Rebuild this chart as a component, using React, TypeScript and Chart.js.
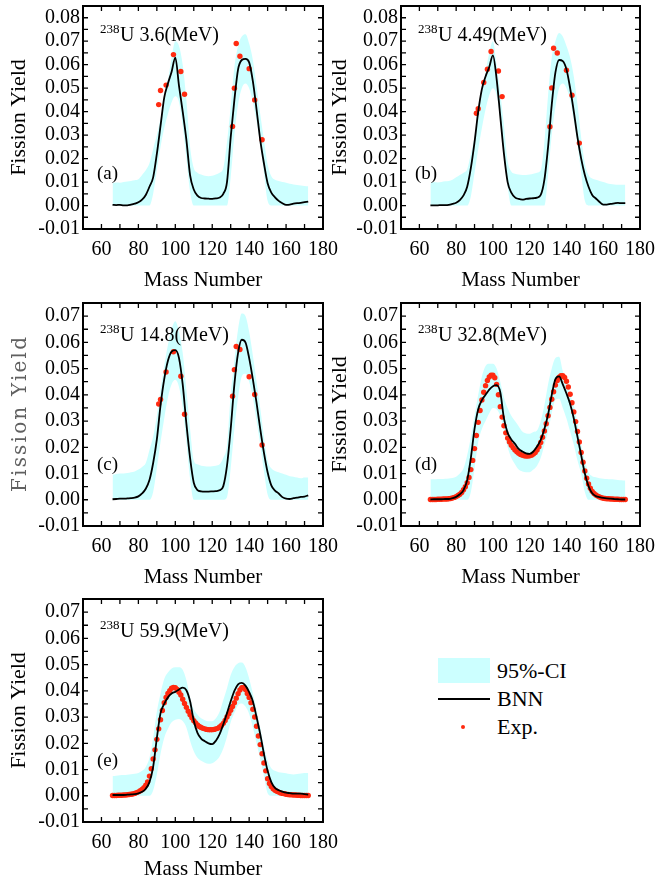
import React, { useEffect, useRef } from 'react';
import { Chart, registerables } from 'chart.js';

Chart.register(...registerables);

// ---------- shared categories / ticks ----------
const MASS2 = [
  66, 68, 70, 72, 74, 76, 78, 80, 82, 84,
  86, 88, 90, 92, 94, 96, 98, 100, 102, 104,
  106, 108, 110, 112, 114, 116, 118, 120, 122, 124,
  126, 128, 130, 132, 134, 136, 138, 140, 142, 144,
  146, 148, 150, 152, 154, 156, 158, 160, 162, 164,
  166, 168, 170, 172,
];
const MASS1 = [
  66, 67, 68, 69, 70, 71, 72, 73, 74, 75,
  76, 77, 78, 79, 80, 81, 82, 83, 84, 85,
  86, 87, 88, 89, 90, 91, 92, 93, 94, 95,
  96, 97, 98, 99, 100, 101, 102, 103, 104, 105,
  106, 107, 108, 109, 110, 111, 112, 113, 114, 115,
  116, 117, 118, 119, 120, 121, 122, 123, 124, 125,
  126, 127, 128, 129, 130, 131, 132, 133, 134, 135,
  136, 137, 138, 139, 140, 141, 142, 143, 144, 145,
  146, 147, 148, 149, 150, 151, 152, 153, 154, 155,
  156, 157, 158, 159, 160, 161, 162, 163, 164, 165,
  166, 167, 168, 169, 170, 171, 172,
];
const X_TICKS = [50, 60, 70, 80, 90, 100, 110, 120, 130, 140, 150, 160, 170, 180];
const Y_TICKS_AB = [-0.01, -0.005, 0, 0.005, 0.01, 0.015, 0.02, 0.025, 0.03, 0.035, 0.04, 0.045, 0.05, 0.055, 0.06, 0.065, 0.07, 0.075, 0.08, 0.085];
const Y_TICKS_CDE = [-0.01, -0.005, 0, 0.005, 0.01, 0.015, 0.02, 0.025, 0.03, 0.035, 0.04, 0.045, 0.05, 0.055, 0.06, 0.065, 0.07, 0.075];

// ---------- (a) 238U 3.6 MeV ----------
const A_BNN = [
  0.0003, 0.0002, 0.0003, 0.0001, 0.0001, 0.0004, 0.0008, 0.0014, 0.0025, 0.0045,
  0.0080, 0.0120, 0.0220, 0.0340, 0.0460, 0.0520, 0.0570, 0.0630, 0.0510, 0.0400,
  0.0280, 0.0130, 0.0068, 0.0042, 0.0032, 0.0030, 0.0029, 0.0028, 0.0030, 0.0034,
  0.0050, 0.0100, 0.0290, 0.0450, 0.0580, 0.0620, 0.0625, 0.0610, 0.0530, 0.0410,
  0.0280, 0.0180, 0.0095, 0.0055, 0.0035, 0.0020, 0.0010, 0.0003, 0.0004, 0.0008,
  0.0010, 0.0011, 0.0014, 0.0017,
];
const A_UP = [
  0.0095, 0.0098, 0.0097, 0.0100, 0.0102, 0.0105, 0.0108, 0.0112, 0.0130, 0.0150,
  0.0180, 0.0240, 0.0300, 0.0370, 0.0440, 0.0530, 0.0630, 0.0700, 0.0680, 0.0600,
  0.0450, 0.0250, 0.0160, 0.0140, 0.0132, 0.0127, 0.0125, 0.0127, 0.0132, 0.0140,
  0.0160, 0.0270, 0.0420, 0.0590, 0.0680, 0.0720, 0.0730, 0.0690, 0.0620, 0.0510,
  0.0390, 0.0280, 0.0175, 0.0125, 0.0110, 0.0105, 0.0100, 0.0097, 0.0093, 0.0090,
  0.0087, 0.0085, 0.0083, 0.0082,
];
const A_LO = [
  0, 0, 0, 0, 0, 0, 0, 0, 0, 0,
  0, 0.0050, 0.0150, 0.0250, 0.0330, 0.0390, 0.0440, 0.0465, 0.0440, 0.0340,
  0.0200, 0.0060, 0, 0, 0, 0, 0, 0, 0, 0,
  0, 0, 0.0120, 0.0300, 0.0430, 0.0500, 0.0520, 0.0500, 0.0440, 0.0360,
  0.0260, 0.0140, 0.0020, 0, 0, 0, 0, 0, 0, 0,
  0, 0, 0, 0,
];
const A_EXP_MASS = [91, 92, 95, 99, 103, 105, 131, 132, 133, 135, 140, 143, 147];
const A_EXP = [0.0430, 0.0490, 0.0513, 0.0643, 0.0571, 0.0474, 0.0337, 0.0500, 0.0690, 0.0636, 0.0583, 0.0450, 0.0280];

// ---------- (b) 238U 4.49 MeV ----------
const B_BNN = [
  0.0001, 0.0001, 0.0001, 0.0002, 0.0002, 0.0003, 0.0007, 0.0012, 0.0023, 0.0043,
  0.0080, 0.0160, 0.0270, 0.0400, 0.0496, 0.0550, 0.0590, 0.0640, 0.0540, 0.0380,
  0.0220, 0.0100, 0.0055, 0.0035, 0.0028, 0.0025, 0.0028, 0.0030, 0.0031, 0.0034,
  0.0045, 0.0110, 0.0250, 0.0430, 0.0567, 0.0620, 0.0615, 0.0580, 0.0500, 0.0400,
  0.0290, 0.0200, 0.0130, 0.0080, 0.0045, 0.0030, 0.0015, 0.0004, 0.0004, 0.0007,
  0.0009, 0.0011, 0.0010, 0.0010,
];
const B_UP = [
  0.0095, 0.0100, 0.0098, 0.0100, 0.0103, 0.0105, 0.0110, 0.0120, 0.0130, 0.0140,
  0.0155, 0.0220, 0.0290, 0.0390, 0.0480, 0.0570, 0.0650, 0.0700, 0.0600, 0.0480,
  0.0340, 0.0190, 0.0145, 0.0135, 0.0132, 0.0130, 0.0130, 0.0132, 0.0135, 0.0140,
  0.0150, 0.0270, 0.0470, 0.0630, 0.0700, 0.0735, 0.0720, 0.0680, 0.0630, 0.0550,
  0.0430, 0.0290, 0.0180, 0.0130, 0.0115, 0.0110, 0.0105, 0.0100, 0.0095, 0.0092,
  0.0090, 0.0088, 0.0088, 0.0088,
];
const B_LO = [
  0, 0, 0, 0, 0, 0, 0, 0, 0, 0,
  0, 0.0040, 0.0140, 0.0240, 0.0330, 0.0410, 0.0470, 0.0500, 0.0470, 0.0370,
  0.0220, 0.0080, 0, 0, 0, 0, 0, 0, 0, 0,
  0, 0, 0.0130, 0.0300, 0.0420, 0.0500, 0.0520, 0.0500, 0.0450, 0.0360,
  0.0260, 0.0140, 0.0020, 0, 0, 0, 0, 0, 0, 0,
  0, 0, 0, 0,
];
const B_EXP_MASS = [91, 92, 95, 97, 99, 103, 105, 131, 132, 133, 135, 140, 143, 147];
const B_EXP = [0.0393, 0.0412, 0.0524, 0.0581, 0.0656, 0.0573, 0.0464, 0.0336, 0.0501, 0.0670, 0.0650, 0.0576, 0.0470, 0.0266];

// ---------- (c) 238U 14.8 MeV ----------
const C_BNN = [
  0.0002, 0.0003, 0.0004, 0.0004, 0.0005, 0.0006, 0.0008, 0.0013, 0.0024, 0.0042,
  0.0075, 0.0140, 0.0230, 0.0360, 0.0460, 0.0530, 0.0565, 0.0570, 0.0540, 0.0440,
  0.0290, 0.0160, 0.0065, 0.0037, 0.0032, 0.0031, 0.0031, 0.0032, 0.0033, 0.0036,
  0.0052, 0.0130, 0.0270, 0.0440, 0.0560, 0.0610, 0.0600, 0.0540, 0.0460, 0.0370,
  0.0270, 0.0180, 0.0105, 0.0055, 0.0035, 0.0024, 0.0010, 0.0004, 0.0003, 0.0006,
  0.0008, 0.0011, 0.0012, 0.0017,
];
const C_UP = [
  0.0095, 0.0098, 0.0100, 0.0100, 0.0102, 0.0105, 0.0108, 0.0115, 0.0125, 0.0140,
  0.0190, 0.0240, 0.0320, 0.0420, 0.0510, 0.0590, 0.0650, 0.0680, 0.0640, 0.0560,
  0.0420, 0.0270, 0.0150, 0.0135, 0.0130, 0.0128, 0.0127, 0.0128, 0.0130, 0.0135,
  0.0160, 0.0210, 0.0400, 0.0530, 0.0650, 0.0710, 0.0700, 0.0640, 0.0550, 0.0450,
  0.0350, 0.0240, 0.0150, 0.0120, 0.0110, 0.0105, 0.0100, 0.0095, 0.0090, 0.0088,
  0.0085, 0.0082, 0.0085, 0.0085,
];
const C_LO = [
  0, 0, 0, 0, 0, 0, 0, 0, 0, 0,
  0, 0.0030, 0.0120, 0.0220, 0.0310, 0.0390, 0.0440, 0.0457, 0.0430, 0.0350,
  0.0220, 0.0080, 0, 0, 0, 0, 0, 0, 0, 0,
  0, 0.0010, 0.0120, 0.0270, 0.0390, 0.0470, 0.0480, 0.0450, 0.0390, 0.0300,
  0.0210, 0.0110, 0.0020, 0, 0, 0, 0, 0, 0, 0,
  0, 0, 0, 0,
];
const C_EXP_MASS = [91, 92, 95, 99, 103, 105, 131, 132, 133, 135, 140, 143, 147];
const C_EXP = [0.0365, 0.0382, 0.0487, 0.0564, 0.0471, 0.0326, 0.0395, 0.0496, 0.0584, 0.0573, 0.0469, 0.0401, 0.0209];

// ---------- (d) 238U 32.8 MeV ----------
const D_BNN = [
  0.0001, 0.0002, 0.0002, 0.0002, 0.0003, 0.0003, 0.0006, 0.0011, 0.0021, 0.0037,
  0.0075, 0.0160, 0.0270, 0.0345, 0.0380, 0.0400, 0.0420, 0.0433, 0.0437, 0.0410,
  0.0310, 0.0255, 0.0230, 0.0213, 0.0194, 0.0184, 0.0177, 0.0175, 0.0184, 0.0203,
  0.0228, 0.0270, 0.0325, 0.0400, 0.0460, 0.0470, 0.0440, 0.0405, 0.0365, 0.0310,
  0.0240, 0.0170, 0.0100, 0.0052, 0.0025, 0.0014, 0.0010, 0.0007, 0.0005, 0.0004,
  0.0003, 0.0002, 0.0001, 0.0001,
];
const D_UP = [
  0.0078, 0.0078, 0.0079, 0.0079, 0.0080, 0.0081, 0.0083, 0.0088, 0.0100, 0.0120,
  0.0170, 0.0240, 0.0320, 0.0400, 0.0470, 0.0510, 0.0518, 0.0518, 0.0500, 0.0450,
  0.0390, 0.0350, 0.0320, 0.0300, 0.0280, 0.0260, 0.0253, 0.0252, 0.0258, 0.0264,
  0.0300, 0.0360, 0.0440, 0.0500, 0.0540, 0.0545, 0.0490, 0.0450, 0.0400, 0.0360,
  0.0290, 0.0210, 0.0150, 0.0105, 0.0090, 0.0086, 0.0082, 0.0080, 0.0079, 0.0078,
  0.0077, 0.0075, 0.0074, 0.0073,
];
const D_LO = [
  0, 0, 0, 0, 0, 0, 0, 0, 0, 0,
  0, 0.0030, 0.0120, 0.0220, 0.0270, 0.0300, 0.0330, 0.0350, 0.0345, 0.0320,
  0.0260, 0.0200, 0.0160, 0.0135, 0.0115, 0.0108, 0.0105, 0.0105, 0.0115, 0.0130,
  0.0160, 0.0210, 0.0260, 0.0330, 0.0380, 0.0385, 0.0350, 0.0310, 0.0260, 0.0210,
  0.0150, 0.0100, 0.0030, 0, 0, 0, 0, 0, 0, 0,
  0, 0, 0, 0,
];
const D_EXP = [
  0.0001, 0.0001, 0.0001, 0.0001, 0.0002, 0.0002, 0.0002, 0.0003, 0.0003, 0.0003,
  0.0004, 0.0005, 0.0007, 0.0009, 0.0012, 0.0016, 0.0021, 0.0028, 0.0038, 0.0050,
  0.0065, 0.0085, 0.0115, 0.0150, 0.0195, 0.0245, 0.0295, 0.0340, 0.0380, 0.0410,
  0.0435, 0.0455, 0.0468, 0.0475, 0.0475, 0.0465, 0.0440, 0.0400, 0.0355, 0.0315,
  0.0282, 0.0255, 0.0235, 0.0220, 0.0208, 0.0198, 0.0190, 0.0183, 0.0177, 0.0173,
  0.0170, 0.0168, 0.0167, 0.0167, 0.0168, 0.0170, 0.0174, 0.0180, 0.0190, 0.0202,
  0.0218, 0.0238, 0.0262, 0.0290, 0.0320, 0.0352, 0.0383, 0.0412, 0.0437, 0.0455,
  0.0467, 0.0473, 0.0473, 0.0466, 0.0452, 0.0430, 0.0402, 0.0370, 0.0335, 0.0298,
  0.0260, 0.0220, 0.0180, 0.0143, 0.0110, 0.0082, 0.0060, 0.0044, 0.0032, 0.0024,
  0.0018, 0.0014, 0.0011, 0.0008, 0.0006, 0.0005, 0.0004, 0.0004, 0.0003, 0.0003,
  0.0002, 0.0002, 0.0002, 0.0001, 0.0001, 0.0001, 0.0001,
];

// ---------- (e) 238U 59.9 MeV ----------
const E_BNN = [
  0.0003, 0.0003, 0.0003, 0.0003, 0.0004, 0.0005, 0.0006, 0.0009, 0.0015, 0.0027,
  0.0052, 0.0110, 0.0220, 0.0315, 0.0350, 0.0375, 0.0390, 0.0396, 0.0405, 0.0412,
  0.0402, 0.0360, 0.0286, 0.0240, 0.0218, 0.0208, 0.0200, 0.0197, 0.0210, 0.0235,
  0.0272, 0.0315, 0.0360, 0.0400, 0.0425, 0.0430, 0.0420, 0.0395, 0.0360, 0.0300,
  0.0235, 0.0160, 0.0095, 0.0052, 0.0030, 0.0021, 0.0016, 0.0012, 0.0010, 0.0008,
  0.0008, 0.0008, 0.0006, 0.0004,
];
const E_UP = [
  0.0075, 0.0076, 0.0078, 0.0079, 0.0080, 0.0082, 0.0084, 0.0087, 0.0095, 0.0110,
  0.0145, 0.0220, 0.0320, 0.0390, 0.0445, 0.0470, 0.0485, 0.0490, 0.0490, 0.0480,
  0.0440, 0.0375, 0.0330, 0.0310, 0.0295, 0.0288, 0.0284, 0.0284, 0.0295, 0.0320,
  0.0365, 0.0410, 0.0460, 0.0490, 0.0505, 0.0508, 0.0490, 0.0447, 0.0390, 0.0330,
  0.0260, 0.0190, 0.0135, 0.0105, 0.0095, 0.0090, 0.0088, 0.0086, 0.0083, 0.0081,
  0.0083, 0.0085, 0.0087, 0.0087,
];
const E_LO = [
  0, 0, 0, 0, 0, 0, 0, 0, 0, 0,
  0, 0.0020, 0.0080, 0.0160, 0.0220, 0.0255, 0.0280, 0.0290, 0.0293, 0.0285,
  0.0260, 0.0210, 0.0170, 0.0145, 0.0133, 0.0126, 0.0122, 0.0124, 0.0133, 0.0150,
  0.0180, 0.0225, 0.0280, 0.0315, 0.0345, 0.0352, 0.0340, 0.0312, 0.0260, 0.0200,
  0.0140, 0.0075, 0.0010, 0, 0, 0, 0, 0, 0, 0,
  0, 0, 0, 0,
];
const E_EXP = [
  0.0001, 0.0001, 0.0001, 0.0002, 0.0002, 0.0002, 0.0003, 0.0003, 0.0004, 0.0005,
  0.0006, 0.0007, 0.0009, 0.0012, 0.0015, 0.0019, 0.0024, 0.0031, 0.0040, 0.0053,
  0.0075, 0.0103, 0.0140, 0.0175, 0.0215, 0.0255, 0.0290, 0.0325, 0.0355, 0.0375,
  0.0390, 0.0400, 0.0410, 0.0413, 0.0412, 0.0405, 0.0395, 0.0384, 0.0368, 0.0352,
  0.0337, 0.0322, 0.0309, 0.0297, 0.0286, 0.0278, 0.0270, 0.0264, 0.0260, 0.0257,
  0.0255, 0.0253, 0.0252, 0.0252, 0.0252, 0.0253, 0.0255, 0.0257, 0.0262, 0.0268,
  0.0276, 0.0287, 0.0300, 0.0313, 0.0326, 0.0340, 0.0355, 0.0372, 0.0389, 0.0403,
  0.0412, 0.0413, 0.0405, 0.0390, 0.0375, 0.0355, 0.0330, 0.0300, 0.0265, 0.0228,
  0.0195, 0.0160, 0.0125, 0.0095, 0.0065, 0.0047, 0.0035, 0.0027, 0.0021, 0.0017,
  0.0014, 0.0011, 0.0009, 0.0008, 0.0006, 0.0005, 0.0004, 0.0004, 0.0003, 0.0003,
  0.0002, 0.0002, 0.0001, 0.0001, 0.0001, 0.0001, 0.0001,
];

// ---------- styling ----------
const SERIF = "'Liberation Serif', 'Times New Roman', serif";
const CI_COLOR = '#ccffff';
const EXP_COLOR = '#ff2a10';
const TICK_LEN = 5;

type Spec = {
  key: string;
  left: number; top: number; width: number; height: number;
  plotLeft: number; plotRight: number; plotTop: number; plotBottom: number;
  yMax: number; yTicks: number[];
  energy: string; letter: string; titleBase: number;
  bnn: number[]; up: number[]; lo: number[];
  expMass: number[]; exp: number[];
  yTitlePad: number;
  spacedTitle: boolean;
};

const PANELS: Spec[] = [
  { key: 'a', left: 0, top: 0, width: 345, height: 297, plotLeft: 83, plotRight: 323, plotTop: 6, plotBottom: 229,
    yMax: 0.085, yTicks: Y_TICKS_AB, energy: '3.6(MeV)', letter: '(a)', titleBase: 35,
    bnn: A_BNN, up: A_UP, lo: A_LO, expMass: A_EXP_MASS, exp: A_EXP, yTitlePad: 6, spacedTitle: false },
  { key: 'b', left: 327, top: 0, width: 328, height: 297, plotLeft: 74, plotRight: 313, plotTop: 6, plotBottom: 229,
    yMax: 0.085, yTicks: Y_TICKS_AB, energy: '4.49(MeV)', letter: '(b)', titleBase: 35,
    bnn: B_BNN, up: B_UP, lo: B_LO, expMass: B_EXP_MASS, exp: B_EXP, yTitlePad: 0, spacedTitle: false },
  { key: 'c', left: 0, top: 297, width: 345, height: 297, plotLeft: 83, plotRight: 323, plotTop: 6, plotBottom: 229,
    yMax: 0.075, yTicks: Y_TICKS_CDE, energy: '14.8(MeV)', letter: '(c)', titleBase: 38,
    bnn: C_BNN, up: C_UP, lo: C_LO, expMass: C_EXP_MASS, exp: C_EXP, yTitlePad: 6, spacedTitle: true },
  { key: 'd', left: 327, top: 297, width: 328, height: 297, plotLeft: 74, plotRight: 313, plotTop: 6, plotBottom: 229,
    yMax: 0.075, yTicks: Y_TICKS_CDE, energy: '32.8(MeV)', letter: '(d)', titleBase: 38,
    bnn: D_BNN, up: D_UP, lo: D_LO, expMass: MASS1, exp: D_EXP, yTitlePad: 0, spacedTitle: false },
  { key: 'e', left: 0, top: 593, width: 345, height: 293, plotLeft: 83, plotRight: 323, plotTop: 6, plotBottom: 229,
    yMax: 0.075, yTicks: Y_TICKS_CDE, energy: '59.9(MeV)', letter: '(e)', titleBase: 38,
    bnn: E_BNN, up: E_UP, lo: E_LO, expMass: MASS1, exp: E_EXP, yTitlePad: 6, spacedTitle: false },
];

const framePlugin = {
  id: 'frame',
  afterDraw(chart: any, _args: any, opts: any) {
    const { ctx, chartArea: ca, scales } = chart;
    const xs = scales.x;
    const ys = scales.y;
    ctx.save();
    ctx.strokeStyle = '#000';
    ctx.lineWidth = 1.3;
    ctx.beginPath();
    for (const t of xs.ticks) {
      const p = xs.getPixelForValue(t.value);
      ctx.moveTo(p, ca.bottom);
      ctx.lineTo(p, ca.bottom - TICK_LEN);
      ctx.moveTo(p, ca.top);
      ctx.lineTo(p, ca.top + TICK_LEN);
    }
    for (const t of ys.ticks) {
      const p = ys.getPixelForValue(t.value);
      ctx.moveTo(ca.left, p);
      ctx.lineTo(ca.left + TICK_LEN, p);
      ctx.moveTo(ca.right, p);
      ctx.lineTo(ca.right - TICK_LEN, p);
    }
    ctx.stroke();
    ctx.lineWidth = 2;
    ctx.strokeRect(ca.left, ca.top, ca.right - ca.left, ca.bottom - ca.top);

    ctx.fillStyle = '#000';
    ctx.textAlign = 'left';
    ctx.textBaseline = 'alphabetic';
    const ax = ca.left + 17;
    const ab = ca.top + opts.titleBase;
    ctx.font = `13px ${SERIF}`;
    ctx.fillText('238', ax, ab - 8);
    const sw = ctx.measureText('238').width;
    ctx.font = `20px ${SERIF}`;
    ctx.fillText('U ' + opts.energy, ax + sw + 0.5, ab);
    ctx.font = `19px ${SERIF}`;
    ctx.fillText(opts.letter, ca.left + 14, ys.getPixelForValue(0.0115));

    // letter-spaced grey y-axis title (panel c style)
    if (opts.spacedTitle) {
      const txt = 'Fission Yield';
      ctx.font = `20px 'DejaVu Serif', serif`;
      const w0 = ctx.measureText(txt).width;
      const spacing = Math.max(0, (155 - w0) / (txt.length - 1));
      (ctx as any).letterSpacing = `${spacing}px`;
      const w = w0 + spacing * (txt.length - 1);
      ctx.fillStyle = '#606060';
      ctx.textBaseline = 'middle';
      ctx.textAlign = 'left';
      ctx.translate(21, (ca.top + ca.bottom) / 2);
      ctx.rotate(-Math.PI / 2);
      ctx.fillText(txt, -w / 2, 0);
    }
    ctx.restore();
  },
};

function yLabel(v: number) {
  const r = Math.round(v * 100);
  return Math.abs(v * 100 - r) < 1e-6 ? (r / 100).toFixed(2) : '';
}

function Panel({ spec }: { spec: Spec }) {
  const ref = useRef<HTMLCanvasElement>(null);
  useEffect(() => {
    const canvas = ref.current;
    if (!canvas) return;
    const chart = new Chart(canvas, {
      type: 'line',
      data: {
        datasets: [
          {
            label: '95%-CI',
            data: MASS2.map((m, i) => ({ x: m, y: spec.up[i] })),
            fill: 1,
            backgroundColor: CI_COLOR,
            borderColor: 'transparent',
            borderWidth: 0,
            pointRadius: 0,
            cubicInterpolationMode: 'monotone',
            order: 4,
          },
          {
            label: 'lower',
            data: MASS2.map((m, i) => ({ x: m, y: spec.lo[i] })),
            fill: false,
            borderColor: 'transparent',
            borderWidth: 0,
            pointRadius: 0,
            cubicInterpolationMode: 'monotone',
            order: 5,
          },
          {
            label: 'Exp.',
            data: spec.expMass.map((m, i) => ({ x: m, y: spec.exp[i] })),
            showLine: false,
            pointRadius: 2.7,
            pointBackgroundColor: EXP_COLOR,
            pointBorderWidth: 0,
            pointBorderColor: EXP_COLOR,
            order: 2,
          },
          {
            label: 'BNN',
            data: MASS2.map((m, i) => ({ x: m, y: spec.bnn[i] })),
            fill: false,
            borderColor: '#000',
            borderWidth: 1.8,
            pointRadius: 0,
            cubicInterpolationMode: 'monotone',
            order: 1,
          },
        ],
      } as any,
      options: {
        animation: false,
        responsive: false,
        events: [],
        layout: { padding: { left: 0, top: spec.plotTop, right: spec.width - spec.plotRight, bottom: 0 } },
        plugins: {
          legend: { display: false },
          tooltip: { enabled: false },
          frame: { energy: spec.energy, letter: spec.letter, titleBase: spec.titleBase, spacedTitle: spec.spacedTitle },
        } as any,
        scales: {
          x: {
            type: 'linear',
            min: 50,
            max: 180,
            afterBuildTicks: (s: any) => { s.ticks = X_TICKS.map((v) => ({ value: v })); },
            afterFit: (s: any) => { s.height = spec.height - spec.plotBottom; s.paddingLeft = 0; s.paddingRight = 0; },
            grid: { display: false, drawTicks: false },
            border: { display: false },
            ticks: {
              autoSkip: false, maxRotation: 0, minRotation: 0, padding: 9, color: '#000',
              font: { family: SERIF, size: 20 },
              callback: (v: any) => (Number(v) % 20 === 0 && Number(v) >= 60 ? String(v) : ''),
            },
            title: { display: true, text: 'Mass Number', color: '#000', font: { family: SERIF, size: 21 }, padding: { top: 0, bottom: 3.5 } },
          },
          y: {
            type: 'linear',
            min: -0.01,
            max: spec.yMax,
            afterBuildTicks: (s: any) => { s.ticks = spec.yTicks.map((v) => ({ value: v })); },
            afterFit: (s: any) => { s.width = spec.plotLeft; s.paddingTop = 0; s.paddingBottom = 0; },
            grid: { display: false, drawTicks: false },
            border: { display: false },
            ticks: {
              autoSkip: false, padding: 3, color: '#000',
              font: { family: SERIF, size: 20 },
              callback: (v: any) => yLabel(Number(v)),
            },
            title: {
              display: !spec.spacedTitle, text: 'Fission Yield', color: '#000',
              font: { family: SERIF, size: 22 },
              padding: { top: spec.yTitlePad, bottom: 0 },
            },
          },
        },
      } as any,
      plugins: [framePlugin as any],
    });
    return () => chart.destroy();
  }, [spec]);
  return (
    <canvas
      ref={ref}
      width={spec.width}
      height={spec.height}
      style={{ position: 'absolute', left: spec.left, top: spec.top, width: spec.width, height: spec.height }}
    />
  );
}

function Legend() {
  const text: React.CSSProperties = { position: 'absolute', fontFamily: SERIF, fontSize: 22, lineHeight: '22px', color: '#000', whiteSpace: 'nowrap' };
  return (
    <>
      <div style={{ position: 'absolute', left: 438, top: 658, width: 52, height: 25, background: CI_COLOR }} />
      <div style={{ ...text, left: 497, top: 659.5 }}>95%-CI</div>
      <div style={{ position: 'absolute', left: 438, top: 698, width: 52, height: 2, background: '#000' }} />
      <div style={{ ...text, left: 497, top: 688 }}>BNN</div>
      <div style={{ position: 'absolute', left: 461, top: 725, width: 4, height: 4, borderRadius: 2, background: EXP_COLOR }} />
      <div style={{ ...text, left: 497, top: 715.5 }}>Exp.</div>
    </>
  );
}

export default function App() {
  return (
    <div style={{ position: 'absolute', left: 0, top: 0, width: 655, height: 886, background: '#fff', overflow: 'hidden' }}>
      {PANELS.map((p) => (
        <Panel key={p.key} spec={p} />
      ))}
      <Legend />
    </div>
  );
}
